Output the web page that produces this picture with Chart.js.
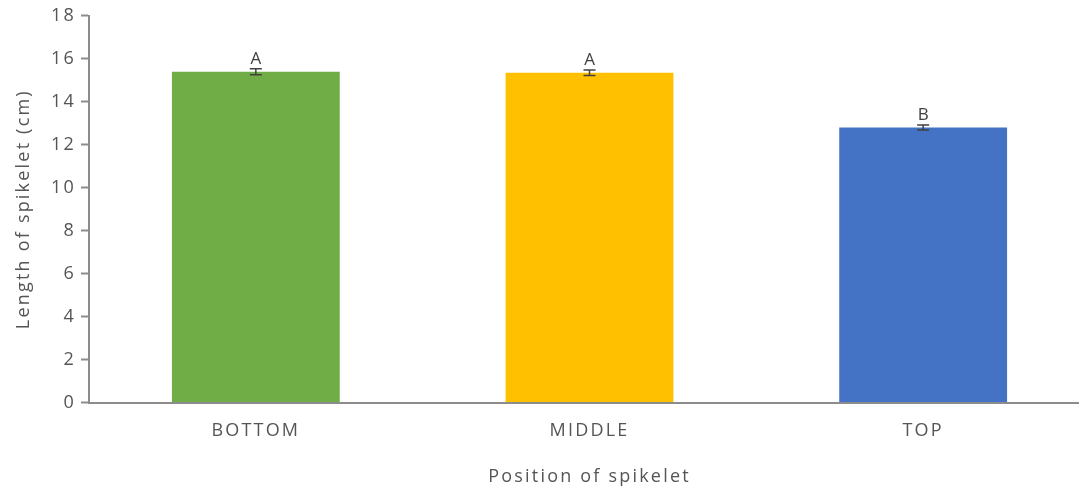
<!DOCTYPE html>
<html>
<head>
<meta charset="utf-8">
<title>Length of spikelet by position</title>
<script src="https://cdn.jsdelivr.net/npm/chart.js@4/dist/chart.umd.min.js"></script>
<style>
  html, body { margin: 0; padding: 0; background: #ffffff; overflow: hidden; }
  #wrap { position: absolute; left: 0; top: 0; width: 1090px; height: 488px; }
</style>
</head>
<body>
<div id="wrap"><canvas id="chart" width="1090" height="488"></canvas></div>
<script>
// Spikelet length (cm) by position on the spike, with standard error and group letters
const positions = ['BOTTOM', 'MIDDLE', 'TOP'];
const lengths = [15.40, 15.35, 12.80];
const errors = [0.14, 0.13, 0.12];
const groups = ['A', 'A', 'B'];
const barColors = ['#70AD47', '#FFC000', '#4472C4'];
const yTicks = [0, 2, 4, 6, 8, 10, 12, 14, 16, 18];

const FONT = '"Open Sans", "DejaVu Sans", sans-serif';
const TEXT = '#555555';
const AXIS = '#8c8c8c';
const SPACING = '2.2px';

// Wide lettering for every label drawn on the canvas
const spacing = {
  id: 'spacing',
  beforeUpdate(c) { c.ctx.letterSpacing = SPACING; },
  beforeDraw(c) { c.ctx.letterSpacing = SPACING; }
};

// Error whiskers and significance letters above each bar
const whiskers = {
  id: 'whiskers',
  afterDatasetsDraw(c) {
    const ctx = c.ctx;
    const y = c.scales.y;
    const meta = c.getDatasetMeta(0);
    ctx.save();
    ctx.letterSpacing = '0px';
    meta.data.forEach((bar, i) => {
      const x = bar.x;
      const hi = y.getPixelForValue(lengths[i] + errors[i]);
      const lo = y.getPixelForValue(lengths[i] - errors[i]);
      ctx.strokeStyle = '#404040';
      ctx.lineWidth = 1.5;
      ctx.beginPath();
      ctx.moveTo(x, hi); ctx.lineTo(x, lo);
      ctx.moveTo(x - 6, hi); ctx.lineTo(x + 6, hi);
      ctx.moveTo(x - 6, lo); ctx.lineTo(x + 6, lo);
      ctx.stroke();
      ctx.fillStyle = '#404040';
      ctx.font = '17px ' + FONT;
      ctx.textAlign = 'center';
      ctx.textBaseline = 'alphabetic';
      ctx.fillText(groups[i], x, hi - 5);
    });
    ctx.restore();
  }
};

new Chart(document.getElementById('chart'), {
  type: 'bar',
  data: {
    labels: positions,
    datasets: [{
      data: lengths,
      backgroundColor: barColors,
      borderWidth: 0,
      categoryPercentage: 1,
      barPercentage: 0.503
    }]
  },
  options: {
    responsive: false,
    devicePixelRatio: 1,
    animation: false,
    layout: { padding: { top: 15, right: 0, left: 0, bottom: 0 } },
    plugins: {
      legend: { display: false },
      tooltip: { enabled: false }
    },
    scales: {
      x: {
        grid: { display: false },
        border: { color: AXIS, width: 2 },
        ticks: { color: TEXT, font: { family: FONT, size: 18 }, padding: 10, maxRotation: 0 },
        title: {
          display: true,
          text: 'Position of spikelet',
          color: TEXT,
          font: { family: FONT, size: 18 },
          padding: { top: 0, bottom: 0 }
        },
        afterFit(s) { s.height = 85.5; }
      },
      y: {
        min: 0,
        max: 18,
        afterBuildTicks(s) { s.ticks = yTicks.map(v => ({ value: v })); },
        grid: { display: true, drawOnChartArea: false, tickLength: 8, tickColor: AXIS, tickWidth: 2 },
        border: { color: AXIS, width: 2 },
        ticks: { color: TEXT, font: { family: FONT, size: 18 }, padding: 5 },
        title: {
          display: true,
          text: 'Length of spikelet (cm)',
          color: TEXT,
          font: { family: FONT, size: 18 },
          padding: { top: 13, bottom: 0 }
        },
        afterFit(s) { s.width = 89; }
      }
    }
  },
  plugins: [spacing, whiskers]
});
</script>
</body>
</html>
